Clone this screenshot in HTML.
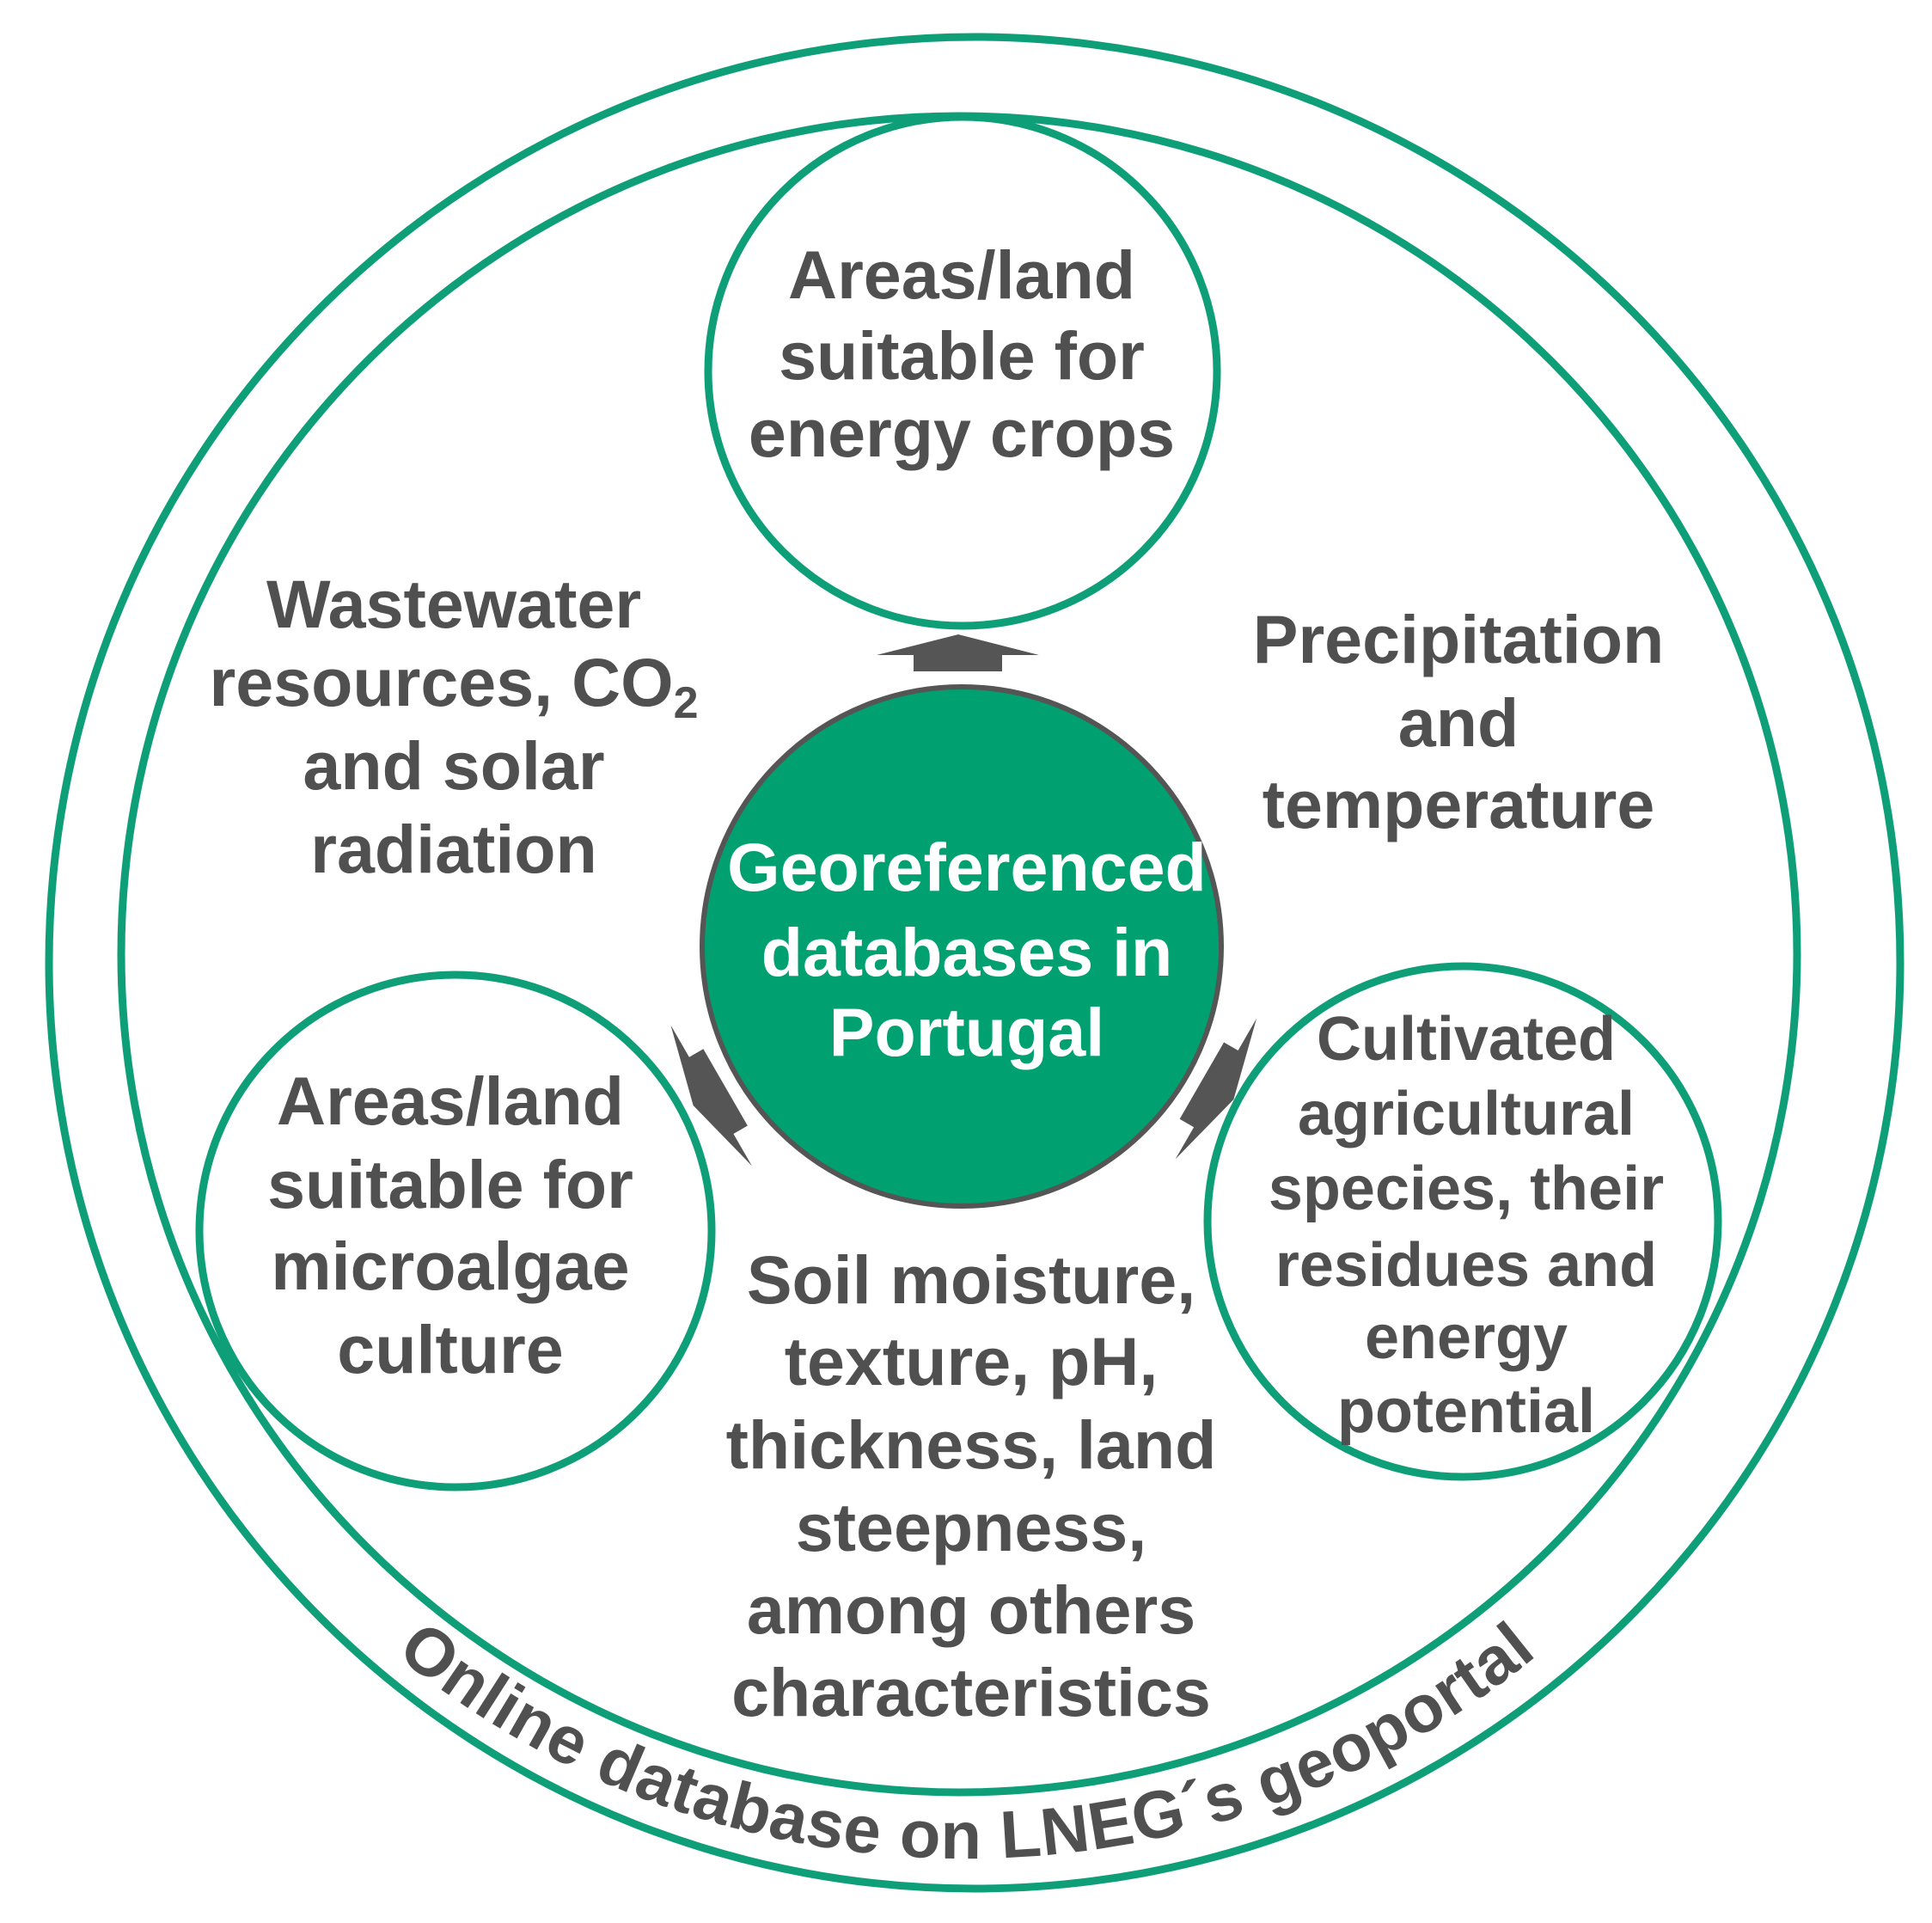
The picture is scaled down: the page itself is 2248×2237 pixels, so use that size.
<!DOCTYPE html>
<html><head><meta charset="utf-8"><style>
html,body{margin:0;padding:0;background:#fff;}
svg{display:block;}
text{font-family:"Liberation Sans",Arial,sans-serif;font-weight:bold;fill:#505050;text-anchor:middle;}
</style></head><body>
<svg width="2248" height="2237" viewBox="0 0 2248 2237" xmlns="http://www.w3.org/2000/svg">
<rect width="2248" height="2237" fill="#fff"/>
<g fill="none" stroke="#0f9f78" stroke-width="9">
<circle cx="1134" cy="1120" r="1077"/>
<circle cx="1116" cy="1110" r="975"/>
<circle cx="1120" cy="432" r="296"/>
<circle cx="530" cy="1432" r="298"/>
<circle cx="1702" cy="1421" r="297"/>
</g>
<circle cx="1119" cy="1101" r="302" fill="#00a070" stroke="#555" stroke-width="6"/>
<g fill="#555">
<path id="arr" d="M1115,738 L1209,762 L1166,762 L1166,781 L1063,781 L1063,762 L1020,762 Z"/>
<use href="#arr" transform="rotate(-120 1119 1101)"/>
<use href="#arr" transform="rotate(120 1119 1101)"/>
</g>
<g font-size="79">
<text x="1119" y="347">Areas/land</text>
<text x="1119" y="441">suitable for</text>
<text x="1119" y="531">energy crops</text>
<text x="528" y="730">Wastewater</text>
<text x="528" y="821">resources, CO<tspan font-size="52" dy="14">2</tspan></text>
<text x="528" y="918">and solar</text>
<text x="528" y="1015">radiation</text>
<text x="1697" y="771">Precipitation</text>
<text x="1697" y="868">and</text>
<text x="1697" y="963">temperature</text>
<text x="1125" y="1036" style="fill:#fff">Georeferenced</text>
<text x="1125" y="1135" style="fill:#fff">databases in</text>
<text x="1125" y="1228" style="fill:#fff">Portugal</text>
<text x="524" y="1308">Areas/land</text>
<text x="524" y="1405">suitable for</text>
<text x="524" y="1500">microalgae</text>
<text x="524" y="1597">culture</text>
<text x="1130" y="1516">Soil moisture,</text>
<text x="1130" y="1611">texture, pH,</text>
<text x="1130" y="1708">thickness, land</text>
<text x="1130" y="1804">steepness,</text>
<text x="1130" y="1900">among others</text>
<text x="1130" y="1996">characteristics</text>
</g>
<g font-size="72">
<text x="1706" y="1233">Cultivated</text>
<text x="1706" y="1320">agricultural</text>
<text x="1706" y="1407">species, their</text>
<text x="1706" y="1496">residues and</text>
<text x="1706" y="1580">energy</text>
<text x="1706" y="1666">potential</text>
</g>
<path id="arc" d="M75,1112 A1050,1050 0 0 0 2175,1112" fill="none"/>
<text font-size="78" letter-spacing="1"><textPath href="#arc" startOffset="50%">Online database on LNEG´s geoportal</textPath></text>
</svg>
</body></html>
